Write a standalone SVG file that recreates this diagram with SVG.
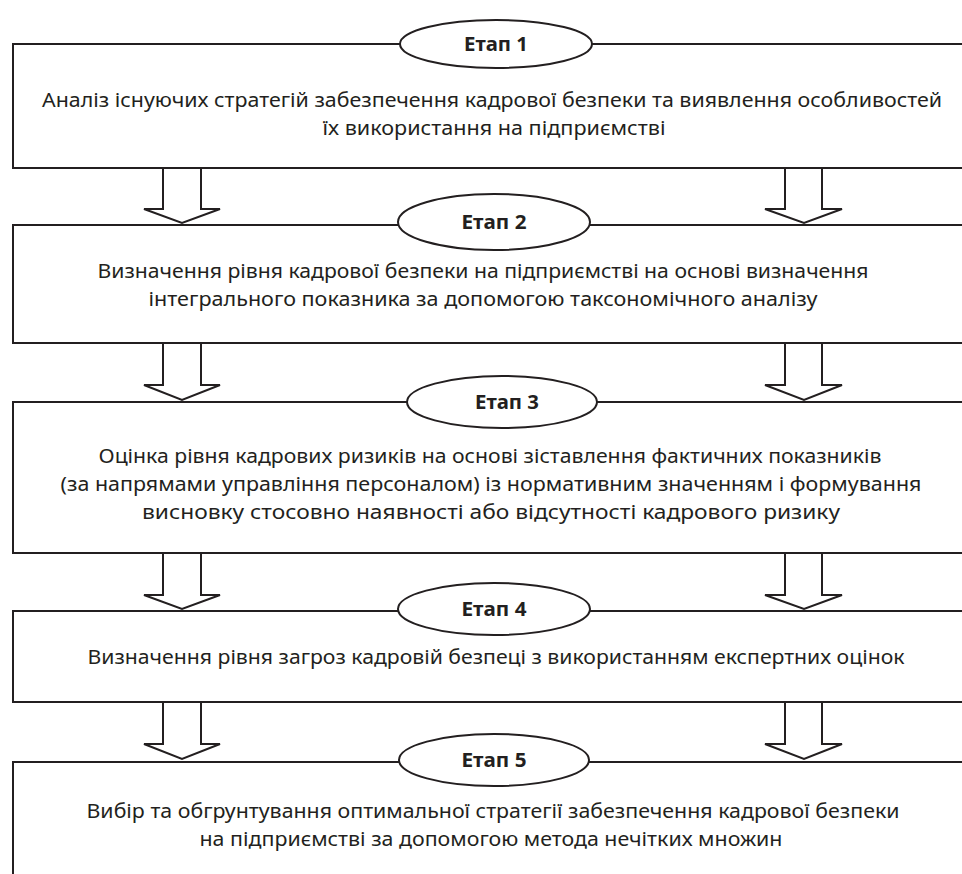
<svg xmlns="http://www.w3.org/2000/svg" width="962" height="874" viewBox="0 0 962 874">
<style>
.box{fill:none;stroke:#231f20;stroke-width:2}
.ell{fill:#fff;stroke:#231f20;stroke-width:2}
.arr{fill:#fff;stroke:#231f20;stroke-width:2;stroke-linejoin:miter}
.t{font-family:"Noto Sans","Open Sans",sans-serif;font-size:20.5px;fill:#231f20;text-anchor:middle}
.h{font-family:"Noto Sans","Open Sans",sans-serif;font-size:20px;font-weight:bold;fill:#231f20;text-anchor:middle}
</style>
<rect width="962" height="874" fill="#fff"/>
<g id="stage1">
<path class="box" d="M970,44 H13 V168 H970"/>
<ellipse class="ell" cx="496" cy="44" rx="96" ry="24"/>
<text class="h" x="496" y="51" textLength="64" lengthAdjust="spacingAndGlyphs">Етап 1</text>
<text class="t" x="492" y="107" textLength="900" lengthAdjust="spacingAndGlyphs">Аналіз існуючих стратегій забезпечення кадрової безпеки та виявлення особливостей</text>
<text class="t" x="494" y="135" textLength="343" lengthAdjust="spacingAndGlyphs">їх використання на підприємстві</text>
</g>
<g id="stage2">
<path class="box" d="M970,225 H13 V343 H970"/>
<ellipse class="ell" cx="494" cy="222" rx="96" ry="28"/>
<text class="h" x="494" y="229" textLength="65" lengthAdjust="spacingAndGlyphs">Етап 2</text>
<text class="t" x="483" y="278" textLength="771" lengthAdjust="spacingAndGlyphs">Визначення рівня кадрової безпеки на підприємстві на основі визначення</text>
<text class="t" x="483" y="306" textLength="669" lengthAdjust="spacingAndGlyphs">інтегрального показника за допомогою таксономічного аналізу</text>
</g>
<g id="stage3">
<path class="box" d="M970,402 H13 V553 H970"/>
<ellipse class="ell" cx="502" cy="402" rx="95" ry="26"/>
<text class="h" x="507" y="409" textLength="64" lengthAdjust="spacingAndGlyphs">Етап 3</text>
<text class="t" x="490" y="463" textLength="783" lengthAdjust="spacingAndGlyphs">Оцінка рівня кадрових ризиків на основі зіставлення фактичних показників</text>
<text class="t" x="491" y="491" textLength="861" lengthAdjust="spacingAndGlyphs">(за напрямами управління персоналом) із нормативним значенням і формування</text>
<text class="t" x="491" y="519" textLength="698" lengthAdjust="spacingAndGlyphs">висновку стосовно наявності або відсутності кадрового ризику</text>
</g>
<g id="stage4">
<path class="box" d="M970,611 H13 V702 H970"/>
<ellipse class="ell" cx="494" cy="609" rx="96" ry="26"/>
<text class="h" x="494" y="616" textLength="65" lengthAdjust="spacingAndGlyphs">Етап 4</text>
<text class="t" x="496" y="664" textLength="817" lengthAdjust="spacingAndGlyphs">Визначення рівня загроз кадровій безпеці з використанням експертних оцінок</text>
</g>
<g id="stage5">
<path class="box" d="M970,762 H13 V880"/>
<ellipse class="ell" cx="494" cy="760" rx="95" ry="26"/>
<text class="h" x="494" y="767" textLength="65" lengthAdjust="spacingAndGlyphs">Етап 5</text>
<text class="t" x="493" y="818" textLength="813" lengthAdjust="spacingAndGlyphs">Вибір та обгрунтування оптимальної стратегії забезпечення кадрової безпеки</text>
<text class="t" x="491" y="846" textLength="583" lengthAdjust="spacingAndGlyphs">на підприємстві за допомогою метода нечітких множин</text>
</g>
<g id="connectors">
<polygon class="arr" points="163,168 201,168 201,209 220,209 182,223 144,209 163,209"/>
<polygon class="arr" points="785,168 822,168 822,209 842,209 804,223 765,209 785,209"/>
<polygon class="arr" points="163,343 201,343 201,385 220,385 182,400 144,385 163,385"/>
<polygon class="arr" points="785,343 822,343 822,385 842,385 804,400 765,385 785,385"/>
<polygon class="arr" points="163,553 201,553 201,595 220,595 182,609 144,595 163,595"/>
<polygon class="arr" points="785,553 822,553 822,595 842,595 804,609 765,595 785,595"/>
<polygon class="arr" points="163,702 201,702 201,744 220,744 182,759 144,744 163,744"/>
<polygon class="arr" points="785,702 822,702 822,744 842,744 804,759 765,744 785,744"/>
</g>
</svg>
